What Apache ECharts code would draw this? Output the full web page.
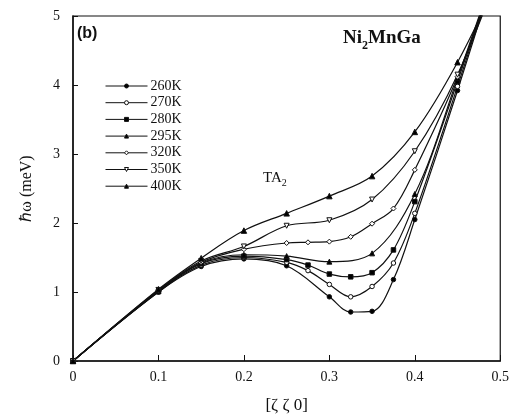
<!DOCTYPE html>
<html>
<head>
<meta charset="utf-8">
<script src="https://cdn.jsdelivr.net/npm/echarts@6/dist/echarts.min.js"></script>
<style>html,body{margin:0;padding:0;background:#fff}#c{width:512px;height:419px}</style>
</head>
<body>
<div id="c"></div>
<script>
const xTicks = [0, 0.1, 0.2, 0.3, 0.4, 0.5];
const yTicks = [0, 1, 2, 3, 4, 5];
const seriesNames = ['260K', '270K', '280K', '295K', '320K', '350K', '400K'];
const s260 = [[0,0],[0.1,1.0],[0.15,1.37],[0.2,1.48],[0.25,1.38],[0.3,0.93],[0.325,0.71],[0.35,0.72],[0.375,1.18],[0.4,2.05],[0.45,3.92],[0.5,5.9]];
const s270 = [[0,0],[0.1,1.0],[0.15,1.39],[0.2,1.5],[0.25,1.43],[0.275,1.31],[0.3,1.11],[0.325,0.93],[0.35,1.08],[0.375,1.42],[0.4,2.14],[0.45,3.98],[0.5,5.9]];
const s280 = [[0,0],[0.1,1.01],[0.15,1.41],[0.2,1.52],[0.25,1.47],[0.275,1.39],[0.3,1.26],[0.325,1.22],[0.35,1.28],[0.375,1.61],[0.4,2.31],[0.45,4.05],[0.5,5.9]];
const s295 = [[0,0],[0.1,1.01],[0.15,1.42],[0.2,1.54],[0.25,1.52],[0.3,1.44],[0.35,1.56],[0.4,2.42],[0.45,4.1],[0.5,5.9]];
const s320 = [[0,0],[0.1,1.02],[0.15,1.43],[0.2,1.62],[0.25,1.71],[0.275,1.72],[0.3,1.73],[0.325,1.8],[0.35,1.99],[0.375,2.21],[0.4,2.77],[0.45,4.12],[0.5,5.8]];
const s350 = [[0,0],[0.1,1.03],[0.15,1.45],[0.2,1.66],[0.25,1.96],[0.3,2.04],[0.35,2.34],[0.4,3.04],[0.45,4.15],[0.5,5.7]];
const s400 = [[0,0],[0.1,1.04],[0.15,1.49],[0.2,1.89],[0.25,2.14],[0.3,2.39],[0.35,2.68],[0.4,3.32],[0.45,4.33],[0.5,5.6]];

const dataSets = [s260, s270, s280, s295, s320, s350, s400];
const markers = [
  {symbol:'circle', size:4.5, fill:'#000', rot:0},
  {symbol:'circle', size:4.5, fill:'#fff', rot:0},
  {symbol:'rect', size:4.5, fill:'#000', rot:0},
  {symbol:'triangle', size:5, fill:'#000', rot:0},
  {symbol:'diamond', size:5, fill:'#fff', rot:0},
  {symbol:'triangle', size:5, fill:'#fff', rot:180},
  {symbol:'triangle', size:5.5, fill:'#000', rot:0}
];
const serif = 'Liberation Serif';
const chart = echarts.init(document.getElementById('c'), null, {renderer:'canvas'});
const series = dataSets.map((d, i) => ({
  name: seriesNames[i],
  type: 'line',
  data: d,
  smooth: 0.35,
  clip: true,
  symbol: markers[i].symbol,
  symbolSize: markers[i].size,
  symbolRotate: markers[i].rot,
  showAllSymbol: true,
  lineStyle: {color:'#111', width:1.2},
  itemStyle: {color: markers[i].fill, borderColor:'#111', borderWidth:1},
  emphasis: {disabled:true},
  z: 3
}));
chart.setOption({
  animation: false,
  backgroundColor: '#fff',
  grid: {left:73, right:9, top:16, bottom:58, show:true, borderColor:'#111', borderWidth:1.2, backgroundColor:'transparent'},
  xAxis: {
    type:'value', min:0, max:0.5, interval:0.1,
    axisLine:{show:true, lineStyle:{color:'#111', width:1.5}},
    axisTick:{show:true, inside:true, length:6, lineStyle:{color:'#111'}},
    splitLine:{show:false},
    axisLabel:{color:'#111', fontFamily:serif, fontSize:14, margin:9, formatter: v => xTicks.indexOf(+v.toFixed(1)) >= 0 ? String(+v.toFixed(1)) : ''},
    name:'[ζ ζ 0]', nameLocation:'middle', nameGap:36,
    nameTextStyle:{color:'#111', fontFamily:serif, fontSize:17}
  },
  yAxis: {
    type:'value', min:0, max:5, interval:1,
    axisLine:{show:true, lineStyle:{color:'#111', width:1.5}},
    axisTick:{show:true, inside:true, length:5, lineStyle:{color:'#111'}},
    splitLine:{show:false},
    axisLabel:{color:'#111', fontFamily:serif, fontSize:14, margin:13, formatter: v => yTicks.indexOf(v) >= 0 ? String(v) : ''},
    name:'ℏω (meV)', nameLocation:'middle', nameGap:38, nameRotate:90,
    nameTextStyle:{color:'#111', fontFamily:serif, fontSize:16}
  },
  legend: {
    orient:'vertical', left:100, top:74,
    itemWidth:42, itemHeight:5, itemGap:2.7,
    lineStyle:{width:1, color:'#111'},
    itemStyle:{borderWidth:1, borderColor:'#111'},
    textStyle:{color:'#111', fontFamily:serif, fontSize:14, lineHeight:14, padding:[0,0,0,-2]},
    data: seriesNames
  },
  graphic: [
    {type:'text', left:77, top:26, style:{text:'(b)', fontFamily:'Liberation Sans', fontWeight:'bold', fontSize:16, fill:'#111'}},
    {type:'text', left:343, top:29, style:{
      text:'{a|Ni}{s|2}{a|MnGa}', fill:'#111',
      rich:{a:{fontFamily:serif, fontWeight:'bold', fontSize:19, fill:'#111'}, s:{fontFamily:serif, fontWeight:'bold', fontSize:12, fill:'#111', padding:[14,0,0,0]}}
    }},
    {type:'text', left:263, top:171, style:{
      text:'{a|TA}{s|2}', fill:'#111',
      rich:{a:{fontFamily:serif, fontSize:15, fill:'#111'}, s:{fontFamily:serif, fontSize:10, fill:'#111', padding:[10,0,0,0]}}
    }}
  ],
  series: series
});
</script>
</body>
</html>
